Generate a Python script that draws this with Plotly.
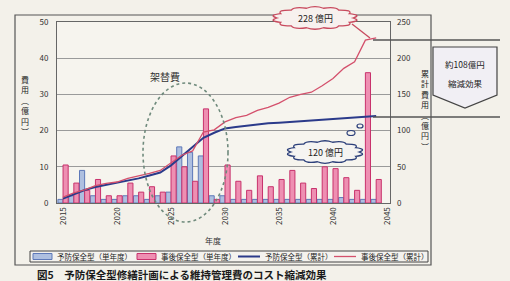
import plotly.graph_objects as go
import numpy as np

# ---- data ----
years = list(range(2015, 2045))
prev_single = [1, 2, 9, 2, 1, 1, 2, 2, 1, 2, 3, 15.5, 14, 13, 2, 2, 1, 1, 1, 1,
               1, 1, 1, 1, 1, 1, 1.5, 1, 1, 1]
post_single = [10.5, 5.5, 3.5, 6.5, 2, 2, 5.5, 3, 4.5, 3, 13, 10, 6, 26, 1,
               10.5, 6, 3.5, 7.5, 4.5, 6.5, 9, 5.5, 4, 10, 9.5, 7, 3.5, 36, 6.5]
prev_cum = [6, 12, 18, 22, 25, 27, 30, 34, 38, 42, 52, 65, 78, 90, 97, 103, 105,
            107, 108, 110, 111, 112, 113, 114, 115, 116, 117, 118, 119, 120]
post_cum = [8, 14, 18, 24, 27, 29, 34, 37, 41, 45, 56, 66, 72, 98, 101, 112, 118,
            121, 128, 132, 138, 146, 150, 153, 162, 172, 186, 195, 225, 228]
x_ticks = [2015, 2020, 2025, 2030, 2035, 2040, 2045]
left_ticks = [0, 10, 20, 30, 40, 50]
right_ticks = [0, 50, 100, 150, 200, 250]

names = ["予防保全型（単年度）", "事後保全型（単年度）", "予防保全型（累計）", "事後保全型（累計）"]
colors = dict(prev_fill="#aebfe0", prev_line="#5d78b8", post_fill="#ee8fb2",
              post_line="#c8326c", prev_cum="#2b3a8a", post_cum="#d4506c")

FONT = "Noto Sans CJK JP"
# plot-area pixel box
L, R, T, B = 57, 390, 22, 203
W, H = R - L, B - T

def px(x):
    return (x - L) / W

def py(y):
    return (B - y) / H

fig = go.Figure()
fig.add_trace(go.Bar(x=years, y=prev_single, name=names[0],
                     marker=dict(color=colors["prev_fill"], line=dict(color=colors["prev_line"], width=1))))
fig.add_trace(go.Bar(x=years, y=post_single, name=names[1],
                     marker=dict(color=colors["post_fill"], line=dict(color=colors["post_line"], width=1))))
fig.add_trace(go.Scatter(x=years, y=prev_cum, name=names[2], yaxis="y2", mode="lines",
                         line=dict(color=colors["prev_cum"], width=2)))
fig.add_trace(go.Scatter(x=years, y=post_cum, name=names[3], yaxis="y2", mode="lines",
                         line=dict(color=colors["post_cum"], width=1.3)))

def cloud_path(cx, cy, rx, ry, n=14, bulge=1.28):
    ang = np.linspace(0, 2 * np.pi, n + 1)
    pts = [(cx + rx * np.cos(a), cy + ry * np.sin(a)) for a in ang]
    d = "M %.4f %.4f" % (px(pts[0][0]), py(pts[0][1]))
    for i in range(n):
        am = (ang[i] + ang[i + 1]) / 2
        cxp = cx + rx * bulge * np.cos(am)
        cyp = cy + ry * bulge * np.sin(am)
        d += " Q %.4f %.4f %.4f %.4f" % (px(cxp), py(cyp), px(pts[i + 1][0]), py(pts[i + 1][1]))
    return d + " Z"

def P(**kw):
    kw.setdefault("xref", "paper")
    kw.setdefault("yref", "paper")
    return kw

shapes = []
# outer frame
shapes.append(P(type="rect", x0=px(15), x1=px(431), y0=py(265), y1=py(15),
                line=dict(color="#555", width=1.2)))
# bracket lines
for yy in (40, 117):
    shapes.append(P(type="line", x0=px(373), x1=px(500), y0=py(yy), y1=py(yy),
                    line=dict(color="#555", width=1.5)))
# pentagon callout
pent = [(433, 47), (497, 47), (497, 95), (465, 108), (433, 95)]
d = "M " + " L ".join("%.4f %.4f" % (px(a), py(b)) for a, b in pent) + " Z"
shapes.append(P(type="path", path=d, fillcolor="#f1eff4", line=dict(color="#444", width=1.2)))
# dotted ellipse
shapes.append(P(type="circle", x0=px(143), x1=px(228), y0=py(222), y1=py(83),
                line=dict(color="#6f8a7c", width=1.6, dash="dot")))
# clouds
shapes.append(P(type="path", path=cloud_path(315, 18, 38, 10),
                fillcolor="#f7f1ee", line=dict(color="#c84a5e", width=1.3)))
shapes.append(P(type="line", x0=px(352), x1=px(370), y0=py(24), y1=py(38),
                line=dict(color="#c84a5e", width=1.3)))
shapes.append(P(type="path", path=cloud_path(325, 152, 34, 10),
                fillcolor="#f5f4f2", line=dict(color="#2c3f7a", width=1.3)))
for (cx, cy, rx, ry) in [(351, 133, 4, 2.5), (360, 126, 3, 2)]:
    shapes.append(P(type="circle", x0=px(cx - rx), x1=px(cx + rx), y0=py(cy + ry), y1=py(cy - ry),
                    line=dict(color="#2c3f7a", width=1.2)))

# manual legend box (one row)
shapes.append(P(type="rect", x0=px(30), x1=px(428), y0=py(262), y1=py(251),
                fillcolor="#f4f2ee", line=dict(color="#444", width=1)))
leg_x = [33, 137, 238, 334]
shapes.append(P(type="rect", x0=px(leg_x[0]), x1=px(leg_x[0] + 19), y0=py(259.5), y1=py(253.5),
                fillcolor=colors["prev_fill"], line=dict(color=colors["prev_line"], width=1)))
shapes.append(P(type="rect", x0=px(leg_x[1]), x1=px(leg_x[1] + 19), y0=py(259.5), y1=py(253.5),
                fillcolor=colors["post_fill"], line=dict(color=colors["post_line"], width=1)))
shapes.append(P(type="line", x0=px(leg_x[2]), x1=px(leg_x[2] + 22), y0=py(256.5), y1=py(256.5),
                line=dict(color=colors["prev_cum"], width=2)))
shapes.append(P(type="line", x0=px(leg_x[3]), x1=px(leg_x[3] + 22), y0=py(256.5), y1=py(256.5),
                line=dict(color=colors["post_cum"], width=1.3)))

def vtext(s):
    return "<br>".join(list(s))

def A(x, y, text, size=9, color="#222", xanchor="center", **kw):
    d = dict(x=px(x), y=py(y), text=text, showarrow=False, xref="paper", yref="paper",
             xanchor=xanchor, yanchor="middle",
             font=dict(size=size, color=color, family=FONT))
    d.update(kw)
    return d

ann = []
for i, name in enumerate(names):
    off = 22 if i < 2 else 25
    ann.append(A(leg_x[i] + off, 256.5, name, size=7.5, color="#222", xanchor="left"))
ann.append(A(315, 18, "228 億円", size=9))
ann.append(A(325, 152, "120 億円", size=9))
ann.append(A(465, 64, "約108億円", size=8.5))
ann.append(A(465, 83, "縮減効果", size=8.5))
ann.append(A(165, 76, "架替費", size=10, color="#333"))
ann.append(A(213, 241, "年度", size=8, color="#333"))
ann.append(A(25, 105, vtext("費用︵億円︶"), size=8, align="center"))
ann.append(A(425, 110, vtext("累計費用︵億円︶"), size=8, align="center"))
ann.append(A(35, 274, "<b>図5　予防保全型修繕計画による維持管理費のコスト縮減効果</b>",
             size=10.5, color="#1a1a1a", xanchor="left"))

fig.update_layout(
    width=510, height=281,
    margin=dict(l=L, r=510 - R, t=T, b=281 - B, autoexpand=False),
    paper_bgcolor="#f3f1ea", plot_bgcolor="#f6f4ee",
    barmode="group", bargap=0.05, bargroupgap=0,
    showlegend=False,
    font=dict(family=FONT, color="#333"),
    xaxis=dict(range=[2014.44, 2045.28], tickvals=x_ticks, tickangle=-90,
               tickfont=dict(size=8, color="#333"), showgrid=False, showline=True,
               mirror=True, linecolor="#666", linewidth=1, zeroline=False, ticks=""),
    yaxis=dict(range=[0, 50], tickvals=left_ticks, showgrid=True, gridcolor="#9a9a9a",
               gridwidth=1, showline=True, mirror=True, linecolor="#666", linewidth=1,
               zeroline=False, tickfont=dict(size=8, color="#333"), ticklabelstandoff=6),
    yaxis2=dict(range=[0, 250], tickvals=right_ticks, overlaying="y", side="right",
                showgrid=False, zeroline=False, showline=False,
                tickfont=dict(size=8, color="#333"), ticklabelstandoff=6),
    shapes=shapes, annotations=ann,
)

fig.write_html("out.html", config={"displayModeBar": False},
               post_script="document.body.style.margin='0';document.body.style.overflow='hidden';")
